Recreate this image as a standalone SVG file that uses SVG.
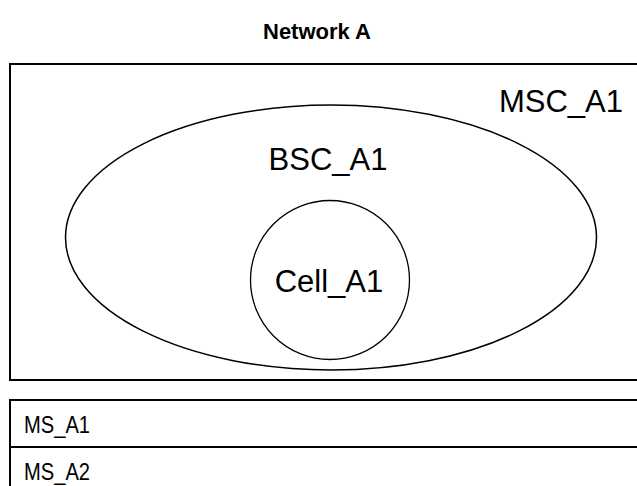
<svg xmlns="http://www.w3.org/2000/svg" width="637" height="486" viewBox="0 0 637 486">
<style>
.lbl{font-family:"Liberation Sans",Arial,sans-serif;fill:#000;text-anchor:middle}
.big{font-size:31px}
.row{font-family:"Liberation Sans",Arial,sans-serif;font-size:24px;fill:#000}
.shape{fill:none;stroke:#000}
</style>
<rect width="637" height="486" fill="#fff"/>
<text id="title" class="lbl" x="317" y="39" font-size="22" font-weight="bold">Network A</text>
<g id="MSC_A1">
<rect class="shape" x="10" y="64" width="640" height="316" stroke-width="2"/>
<text class="lbl big" x="561" y="112">MSC_A1</text>
</g>
<g id="BSC_A1">
<ellipse class="shape" cx="331" cy="237.5" rx="265.5" ry="132.5" stroke-width="1.5"/>
<text class="lbl big" x="328" y="170">BSC_A1</text>
</g>
<g id="Cell_A1">
<circle class="shape" cx="330" cy="280" r="79.5" stroke-width="1.3"/>
<text class="lbl big" x="329" y="292">Cell_A1</text>
</g>
<g id="MS_table">
<rect class="shape" x="10" y="400" width="640" height="100" stroke-width="2"/>
<line class="shape" x1="10" y1="447" x2="650" y2="447" stroke-width="2"/>
<text class="row" x="24" y="433" textLength="66" lengthAdjust="spacingAndGlyphs">MS_A1</text>
<text class="row" x="24" y="480" textLength="66" lengthAdjust="spacingAndGlyphs">MS_A2</text>
</g>
<g id="connectors"/>
</svg>
